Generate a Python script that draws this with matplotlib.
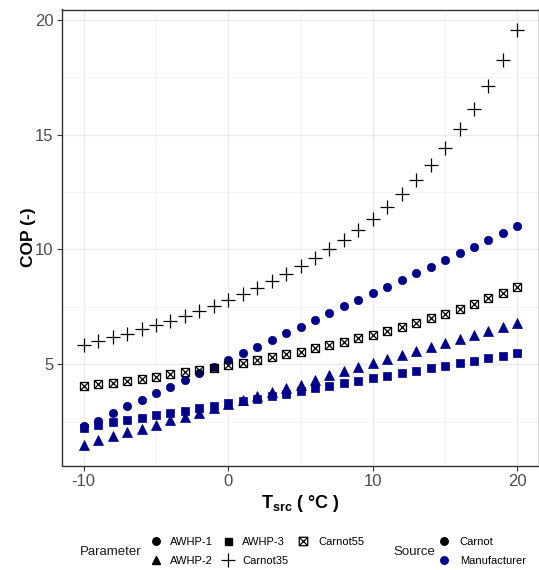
import matplotlib
matplotlib.use("Agg")
import matplotlib.pyplot as plt
import numpy as np
from matplotlib.path import Path
from matplotlib.lines import Line2D

plt.rcParams['font.family'] = ['Liberation Sans', 'DejaVu Sans']
plt.rcParams['axes.unicode_minus'] = False
plt.rcParams['mathtext.fontset'] = 'custom'
plt.rcParams['mathtext.rm'] = 'Liberation Sans'
plt.rcParams['mathtext.bf'] = 'Liberation Sans:bold'

# ---------------- data ----------------
t_src = list(range(-10, 21))

awhp1 = [2.30, 2.55, 2.90, 3.17, 3.43, 3.74, 4.01, 4.32, 4.62, 4.88, 5.19,
         5.48, 5.77, 6.06, 6.36, 6.64, 6.93, 7.22, 7.52, 7.82, 8.11,
         8.38, 8.67, 8.96, 9.25, 9.56, 9.83, 10.11, 10.41, 10.71, 11.01]
awhp2 = [1.49, 1.69, 1.87, 2.04, 2.20, 2.37, 2.56, 2.73, 2.90, 3.08, 3.27,
         3.45, 3.62, 3.78, 3.96, 4.12, 4.32, 4.52, 4.72, 4.88, 5.05,
         5.23, 5.41, 5.59, 5.76, 5.94, 6.12, 6.29, 6.46, 6.63, 6.81]
awhp3 = [2.25, 2.36, 2.49, 2.58, 2.68, 2.78, 2.88, 2.98, 3.09, 3.19, 3.30,
         3.40, 3.50, 3.62, 3.73, 3.85, 3.96, 4.07, 4.18, 4.29, 4.40,
         4.51, 4.62, 4.73, 4.83, 4.94, 5.06, 5.16, 5.26, 5.37, 5.48]
carnot35 = [5.85, 6.00, 6.17, 6.34, 6.52, 6.70, 6.90, 7.11, 7.33, 7.56, 7.80,
            8.06, 8.34, 8.63, 8.94, 9.27, 9.63, 10.01, 10.41, 10.85, 11.33,
            11.84, 12.40, 13.01, 13.67, 14.41, 15.22, 16.12, 17.13, 18.26, 19.54]
carnot55 = [4.05, 4.13, 4.21, 4.29, 4.38, 4.47, 4.56, 4.66, 4.76, 4.86, 4.97,
            5.08, 5.19, 5.31, 5.43, 5.56, 5.70, 5.84, 5.98, 6.13, 6.29,
            6.46, 6.63, 6.81, 7.00, 7.20, 7.41, 7.64, 7.87, 8.12, 8.38]

x_ticks = [-10, 0, 10, 20]
y_ticks = [5, 10, 15, 20]
param_labels = ["AWHP-1", "AWHP-2", "AWHP-3", "Carnot35", "Carnot55"]
source_labels = ["Carnot", "Manufacturer"]

# ---------------- styles ----------------
NAVY = '#00008B'
BLACK = '#000000'

# boxed cross marker (ggplot shape 7)
verts = [(-1, -1), (1, -1), (1, 1), (-1, 1), (-1, -1),
         (-1, -1), (1, 1),
         (-1, 1), (1, -1)]
codes = [Path.MOVETO, Path.LINETO, Path.LINETO, Path.LINETO, Path.LINETO,
         Path.MOVETO, Path.LINETO,
         Path.MOVETO, Path.LINETO]
boxx = Path(verts, codes)

series = [
    (awhp1, 'o', NAVY, 6.0, 'full'),
    (awhp2, '^', NAVY, 6.6, 'full'),
    (awhp3, 's', NAVY, 5.6, 'full'),
    (carnot35, '+', BLACK, 10.0, 'none'),
    (carnot55, boxx, BLACK, 5.8, 'none'),
]

W, H = 539, 570
fig = plt.figure(figsize=(W / 100, H / 100), dpi=100)
ax = fig.add_axes([62 / W, 1 - 465.5 / H, (W - 62) / W, (465.5 - 9.5) / H])

for vals, mk, col, ms, fill in series:
    if fill == 'full':
        ax.plot(t_src, vals, linestyle='none', marker=mk, color=col,
                markersize=ms, markeredgewidth=0.5, markeredgecolor=col)
    else:
        ax.plot(t_src, vals, linestyle='none', marker=mk, color=col,
                markersize=ms, markerfacecolor='none', markeredgecolor=col,
                markeredgewidth=0.9)

ax.set_xlim(-11.5, 21.5)
ax.set_ylim(0.6, 20.44)
ax.set_xticks(x_ticks)
ax.set_yticks(y_ticks)
ax.set_xticks([-5, 5, 15], minor=True)
ax.set_yticks([2.5, 7.5, 12.5, 17.5], minor=True)
ax.grid(True, which='major', color='#EBEBEB', linewidth=1.0)
ax.grid(True, which='minor', color='#F2F2F2', linewidth=0.6)
ax.set_axisbelow(True)
ax.tick_params(which='minor', length=0)
ax.tick_params(which='major', length=3.5, width=0.8, color='#333333',
               labelsize=12, labelcolor='#4D4D4D', pad=2.5)
for s in ax.spines.values():
    s.set_color('#333333')
    s.set_linewidth(1.0)

ax.set_ylabel('COP (-)', fontsize=12.5, fontweight='bold', labelpad=-1.0)
ax.set_xlabel(r'$\mathbf{T_{src}}$' + ' ( °C )', fontsize=13,
              fontweight='bold', labelpad=3.0)

# ---------------- legends ----------------
p_handles = []
for vals, mk, col, ms, fill in series:
    if fill == 'full':
        h = Line2D([], [], linestyle='none', marker=mk, color=BLACK,
                   markersize=ms * 0.9)
    else:
        h = Line2D([], [], linestyle='none', marker=mk, color=BLACK,
                   markerfacecolor='none', markersize=ms * 1.05,
                   markeredgewidth=0.9)
    p_handles.append(h)

leg1 = fig.legend(p_handles, param_labels, ncol=3, loc='center left',
                  bbox_to_anchor=(150 / W, 1 - 551.5 / H), frameon=False,
                  fontsize=8, handlelength=1.0, handletextpad=0.8,
                  columnspacing=0.85, labelspacing=0.8, borderpad=0,
                  borderaxespad=0)
fig.text(110.5 / W, 1 - 552 / H, 'Parameter', fontsize=9.5, ha='center',
         va='center', color='#1A1A1A')

s_handles = [Line2D([], [], linestyle='none', marker='o', color=BLACK,
                    markersize=5.4),
             Line2D([], [], linestyle='none', marker='o', color=NAVY,
                    markersize=5.4)]
leg2 = fig.legend(s_handles, source_labels, ncol=1, loc='center left',
                  bbox_to_anchor=(438 / W, 1 - 551.5 / H), frameon=False,
                  fontsize=8, handlelength=1.0, handletextpad=0.95,
                  labelspacing=0.8, borderpad=0, borderaxespad=0)
fig.text(414 / W, 1 - 552 / H, 'Source', fontsize=9.5, ha='center',
         va='center', color='#1A1A1A')

fig.savefig('out.png', dpi=100)
